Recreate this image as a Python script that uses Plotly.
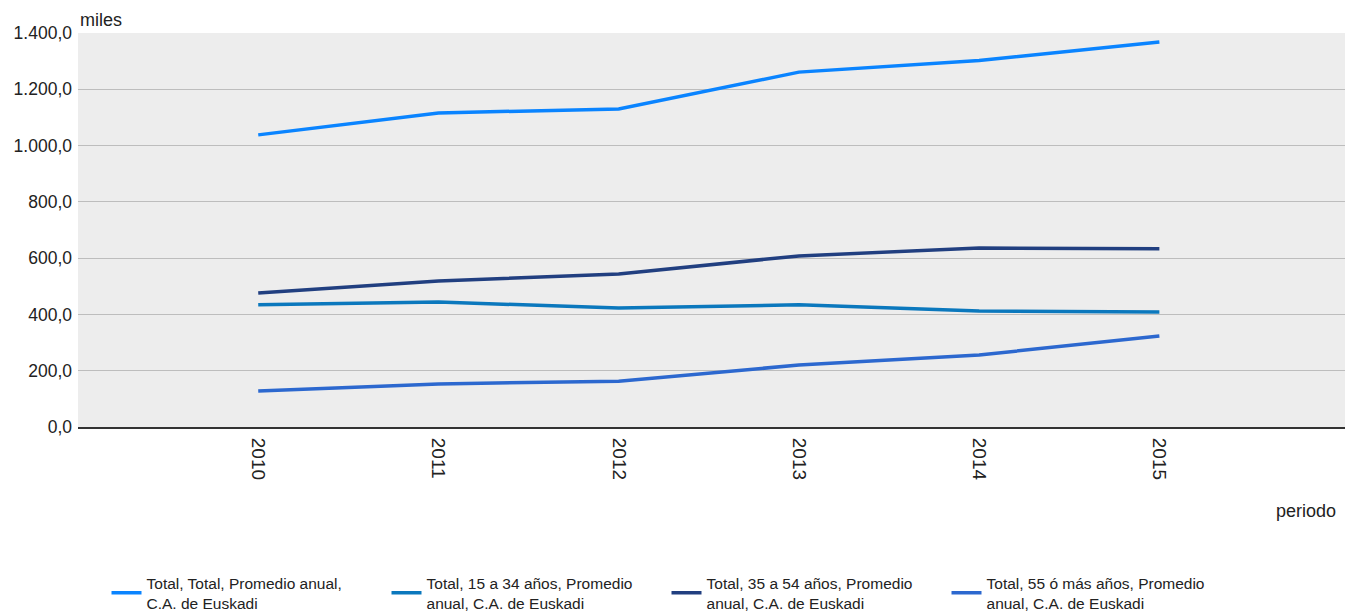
import plotly.graph_objects as go

years = [2010, 2011, 2012, 2013, 2014, 2015]
series_names = [
    "Total, Total, Promedio anual,<br>C.A. de Euskadi",
    "Total, 15 a 34 años, Promedio<br>anual, C.A. de Euskadi",
    "Total, 35 a 54 años, Promedio<br>anual, C.A. de Euskadi",
    "Total, 55 ó más años, Promedio<br>anual, C.A. de Euskadi",
]
total = [1038, 1116, 1130, 1261, 1302, 1368]
age_15_34 = [434, 444, 423, 434, 412, 409]
age_35_54 = [476, 519, 544, 608, 636, 633]
age_55_plus = [128, 153, 163, 220, 256, 323]
colors = ["#0A84FF", "#0B78BD", "#213F80", "#2C68CF"]

fig = go.Figure()
for name, vals, c in zip(series_names, [total, age_15_34, age_35_54, age_55_plus], colors):
    fig.add_trace(go.Scatter(x=years, y=vals, mode="lines", name=name,
                             line=dict(color=c, width=3.5)))

fig.update_layout(
    width=1355, height=612,
    margin=dict(l=78, r=10, t=33, b=185),
    paper_bgcolor="white",
    plot_bgcolor="#EDEDED",
    separators=",.",
    font=dict(family="Liberation Sans, Arial, sans-serif", color="#222", size=15),
    showlegend=True,
    legend=dict(orientation="h", x=0.0225, y=1 - 566 / 612, xanchor="left", yanchor="top",
                yref="container",
                entrywidth=235, entrywidthmode="pixels",
                font=dict(size=15.5, color="#222"), tracegroupgap=0),
    xaxis=dict(range=[2009, 2016.03], tickmode="array", tickvals=years,
               ticktext=[str(y) for y in years], tickangle=90,
               showgrid=False, zeroline=False, showline=True,
               linecolor="#333", linewidth=2, ticks="",
               ticklabelstandoff=5,
               tickfont=dict(size=19, color="#222")),
    yaxis=dict(range=[0, 1400], tickmode="linear", tick0=0, dtick=200,
               tickformat=",.1f", showgrid=True, gridcolor="#BDBDBD", gridwidth=1.2,
               zeroline=False, showline=False, ticks="",
               ticklabelstandoff=5,
               tickfont=dict(size=17.5, color="#222")),
    annotations=[
        dict(text="miles", xref="paper", yref="paper", x=0.0, y=1.0,
             xanchor="left", yanchor="bottom", showarrow=False,
             font=dict(size=18, color="#222"), yshift=1),
        dict(text="periodo", xref="paper", yref="paper", x=0.9945, y=-(511 - 427) / 394,
             xanchor="right", yanchor="middle", showarrow=False,
             font=dict(size=18, color="#222")),
    ],
)

fig.write_html("out.html")
